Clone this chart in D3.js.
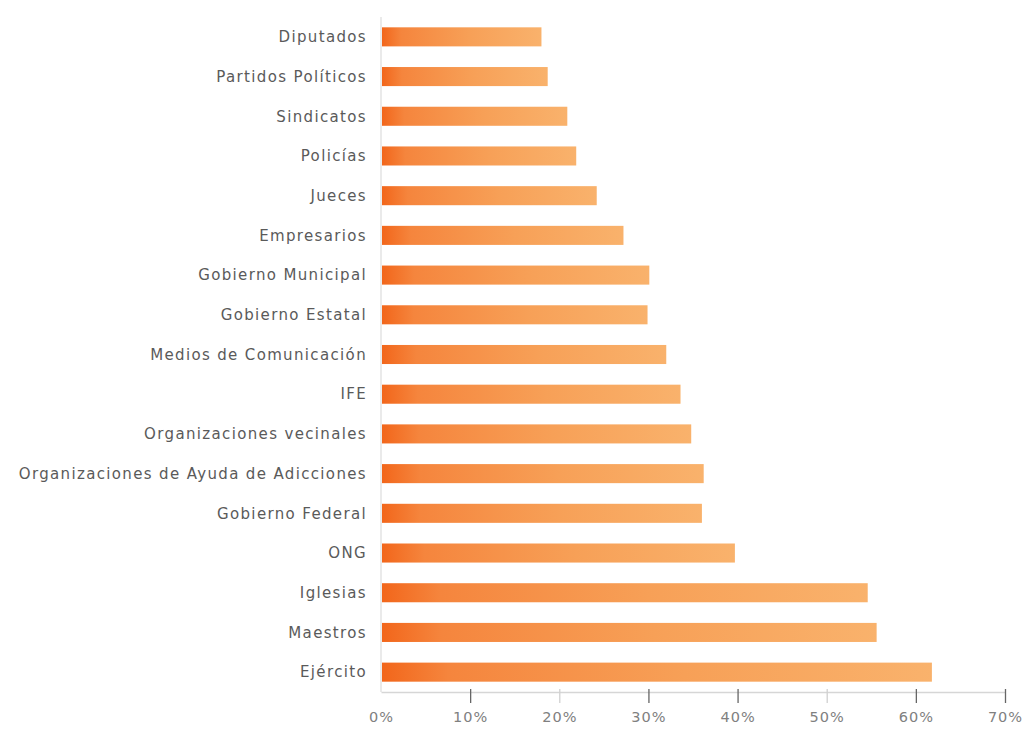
<!DOCTYPE html>
<html>
<head>
<meta charset="utf-8">
<script src="https://cdn.jsdelivr.net/npm/d3@7"></script>
<style>
    body { margin: 0; background: #fff; }
    svg text { font-family: 'DejaVu Sans', 'Open Sans', sans-serif; }
</style>
</head>
<body>
<div class="chart"></div>
<script>
// Categories (top to bottom)
const categories = [
    'Diputados', 'Partidos Políticos', 'Sindicatos', 'Policías', 'Jueces',
    'Empresarios', 'Gobierno Municipal', 'Gobierno Estatal', 'Medios de Comunicación',
    'IFE', 'Organizaciones vecinales', 'Organizaciones de Ayuda de Adicciones',
    'Gobierno Federal', 'ONG', 'Iglesias', 'Maestros', 'Ejército'
];

// Values (%)
const values = [18.0, 18.7, 20.9, 21.9, 24.2, 27.2, 30.1, 29.9, 32.0, 33.6, 34.8, 36.2, 36.0, 39.7, 54.6, 55.6, 61.8];

// Tick labels
const xTicks = [0, 10, 20, 30, 40, 50, 60, 70];

const chart = (() => {
    const W = 1030, H = 737;
    const margin = { top: 17, right: 25, bottom: 45, left: 381 };

    const svg = d3.select('.chart').append('svg')
        .attr('width', W)
        .attr('height', H);

    // bar gradient, one per bar via bounding box
    const grad = svg.append('defs').append('linearGradient')
        .attr('id', 'barGrad')
        .attr('x1', '0%').attr('x2', '100%')
        .attr('y1', '0%').attr('y2', '0%');
    grad.append('stop').attr('offset', '0%').attr('stop-color', '#f2661b');
    grad.append('stop').attr('offset', '12%').attr('stop-color', '#f5853d');
    grad.append('stop').attr('offset', '55%').attr('stop-color', '#f7a057');
    grad.append('stop').attr('offset', '100%').attr('stop-color', '#f9b26c');

    const x = d3.scaleLinear()
        .domain([0, 70])
        .range([margin.left, W - margin.right]);

    const y = d3.scaleBand()
        .domain(categories)
        .range([margin.top, H - margin.bottom])
        .paddingInner(0.52)
        .paddingOuter(0.26);

    const data = categories.map((c, i) => ({ name: c, value: values[i] }));

    // vertical axis line
    svg.append('line')
        .attr('x1', x(0)).attr('x2', x(0))
        .attr('y1', y.range()[0]).attr('y2', y.range()[1])
        .attr('stroke', '#dcdcdc')
        .attr('stroke-width', 1.2);

    // bars
    svg.append('g').selectAll('rect')
        .data(data)
        .enter()
        .append('rect')
        .attr('x', x(0) + 1)
        .attr('y', d => y(d.name))
        .attr('width', d => x(d.value) - x(0) - 1)
        .attr('height', y.bandwidth())
        .attr('fill', 'url(#barGrad)');

    // category labels
    svg.append('g').selectAll('text')
        .data(data)
        .enter()
        .append('text')
        .attr('x', x(0) - 14)
        .attr('y', d => y(d.name) + y.bandwidth() / 2)
        .attr('dy', '0.35em')
        .attr('text-anchor', 'end')
        .attr('font-size', '15px')
        .attr('letter-spacing', '1.35px')
        .attr('fill', '#5a5a5a')
        .text(d => d.name);

    // x axis
    const axisY = y.range()[1];
    const xAxis = svg.append('g')
        .attr('transform', `translate(0, ${axisY})`)
        .call(d3.axisBottom(x).tickValues(xTicks).tickFormat(d => d + '%').tickSize(11).tickSizeOuter(0));

    xAxis.select('.domain').attr('stroke', '#d6d6d6').attr('stroke-width', 1.5);
    xAxis.selectAll('.tick line')
        .attr('y1', -3)
        .attr('stroke', d => (d === 20 || d === 50) ? '#d0d0d0' : '#666')
        .attr('stroke-width', 1.3)
        .attr('opacity', d => d === 0 ? 0 : 1);
    xAxis.selectAll('.tick text')
        .attr('y', 20)
        .attr('font-size', '14.5px')
        .attr('letter-spacing', '1px')
        .attr('fill', '#808080');

    return { svg: svg };
})();
</script>
</body>
</html>
